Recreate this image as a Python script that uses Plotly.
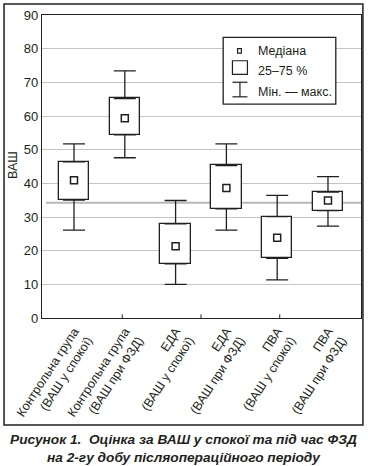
import plotly.graph_objects as go

# ---------------- data ----------------
categories = [
    "Контрольна група<br>(ВАШ у спокої)",
    "Контрольна група<br>(ВАШ при ФЗД)",
    "ЕДА<br>(ВАШ у спокої)",
    "ЕДА<br>(ВАШ при ФЗД)",
    "ПВА<br>(ВАШ у спокої)",
    "ПВА<br>(ВАШ при ФЗД)",
]
mins = [26.1, 47.6, 10.0, 26.1, 11.3, 27.3]
q1 = [35.0, 54.4, 16.1, 32.4, 17.7, 31.9]
medians = [40.9, 59.3, 21.3, 38.6, 23.8, 34.9]
q3 = [46.4, 65.2, 28.0, 45.3, 30.1, 37.4]
maxs = [51.7, 73.4, 34.9, 51.7, 36.4, 42.0]
ref_line = 34.2
y_ticks = [0, 10, 20, 30, 40, 50, 60, 70, 80, 90]
legend_labels = ["Медіана", "25–75 %", "Мін. — макс."]
y_title = "ВАШ"
caption = ("<b><i>Рисунок 1.  Оцінка за ВАШ у спокої та під час ФЗД<br>"
           "на 2-гу добу післяопераційного періоду</i></b>")

INK = "#231f20"
GRID = "#c4c4c4"
FONT = "Liberation Sans, Arial, sans-serif"

fig = go.Figure()

# boxes (25–75 %)
fig.add_trace(go.Bar(
    x=categories,
    y=[b - a for a, b in zip(q1, q3)],
    base=q1,
    width=0.6,
    marker=dict(color="white", line=dict(color=INK, width=1.3)),
    hoverinfo="skip",
    showlegend=False,
))

# upper whiskers (q3 -> max)
fig.add_trace(go.Scatter(
    x=categories, y=q3, mode="markers",
    marker=dict(size=1, color="rgba(0,0,0,0)"),
    error_y=dict(type="data", symmetric=False,
                 array=[m - b for m, b in zip(maxs, q3)],
                 arrayminus=[0] * len(q3),
                 color=INK, thickness=1.3, width=11),
    hoverinfo="skip", showlegend=False,
))
# lower whiskers (q1 -> min)
fig.add_trace(go.Scatter(
    x=categories, y=q1, mode="markers",
    marker=dict(size=1, color="rgba(0,0,0,0)"),
    error_y=dict(type="data", symmetric=False,
                 array=[0] * len(q1),
                 arrayminus=[a - m for a, m in zip(q1, mins)],
                 color=INK, thickness=1.3, width=11),
    hoverinfo="skip", showlegend=False,
))
# medians
fig.add_trace(go.Scatter(
    x=categories, y=medians, mode="markers",
    marker=dict(symbol="square-open", size=7, color=INK, line=dict(width=1.5)),
    showlegend=False,
))

shapes = []
# reference horizontal line
shapes.append(dict(type="line", xref="paper", yref="y", x0=0.012, x1=1.0,
                   y0=ref_line, y1=ref_line, line=dict(color="#b8b8b8", width=2),
                   layer="below"))
# small bottom ticks
for xv in [0.95, 2.5, 4.05]:
    shapes.append(dict(type="line", xref="x", yref="paper", x0=xv, x1=xv,
                       y0=0, y1=0.012, line=dict(color=INK, width=1)))
# outer frame
shapes.append(dict(type="rect", xref="paper", yref="paper",
                   x0=-0.119, x1=1.006, y0=-0.353, y1=1.036,
                   line=dict(color=INK, width=1.5), fillcolor="rgba(0,0,0,0)"))
# legend box
shapes.append(dict(type="rect", xref="paper", yref="paper",
                   x0=0.568, x1=0.921, y0=0.706, y1=0.926,
                   line=dict(color=INK, width=1.3), fillcolor="white"))
# legend symbols
shapes.append(dict(type="rect", xref="paper", yref="paper",
                   x0=0.613, x1=0.625, y0=0.874, y1=0.889,
                   line=dict(color=INK, width=1.2), fillcolor="white"))
shapes.append(dict(type="rect", xref="paper", yref="paper",
                   x0=0.597, x1=0.644, y0=0.804, y1=0.849,
                   line=dict(color=INK, width=1.2), fillcolor="white"))
for yv in (0.778, 0.730):
    shapes.append(dict(type="line", xref="paper", yref="paper",
                       x0=0.597, x1=0.644, y0=yv, y1=yv,
                       line=dict(color=INK, width=1.2)))
shapes.append(dict(type="line", xref="paper", yref="paper",
                   x0=0.6205, x1=0.6205, y0=0.730, y1=0.778,
                   line=dict(color=INK, width=1.2)))

annotations = []
for lab, yv in zip(legend_labels, [0.880, 0.814, 0.747]):
    annotations.append(dict(text=lab, xref="paper", yref="paper", x=0.671, y=yv,
                            xanchor="left", yanchor="middle", showarrow=False,
                            font=dict(family=FONT, size=12.5, color=INK)))
annotations.append(dict(text=y_title, xref="paper", yref="paper", x=-0.091, y=0.505,
                        textangle=-90, xanchor="center", yanchor="middle",
                        showarrow=False, font=dict(family=FONT, size=12.5, color=INK)))
annotations.append(dict(text=caption, xref="paper", yref="paper", x=0.445, y=-0.431,
                        xanchor="center", yanchor="middle", showarrow=False,
                        font=dict(family=FONT, size=13.7, color=INK)))

fig.update_layout(
    width=368, height=466,
    margin=dict(l=42, r=7, t=15, b=148),
    paper_bgcolor="white", plot_bgcolor="white",
    font=dict(family=FONT, size=12, color=INK),
    showlegend=False,
    bargap=0,
    shapes=shapes,
    annotations=annotations,
    xaxis=dict(
        type="category", categoryorder="array", categoryarray=categories,
        range=[-0.63, 5.65], tickangle=-57, ticks="", automargin=False,
        showline=True, linecolor=INK, linewidth=1.3, mirror=True,
        showgrid=False, zeroline=False,
        tickfont=dict(family=FONT, size=12.5, color=INK),
    ),
    yaxis=dict(
        range=[0, 90], tickvals=y_ticks, ticks="", automargin=False,
        showline=True, linecolor=INK, linewidth=1.3, mirror=True,
        showgrid=True, gridcolor=GRID, gridwidth=1, zeroline=False,
        tickfont=dict(family=FONT, size=13, color=INK),
    ),
)

fig.write_html(
    "out.html",
    config={"displayModeBar": False},
    post_script="document.body.style.margin='0';document.body.style.padding='0';",
)
